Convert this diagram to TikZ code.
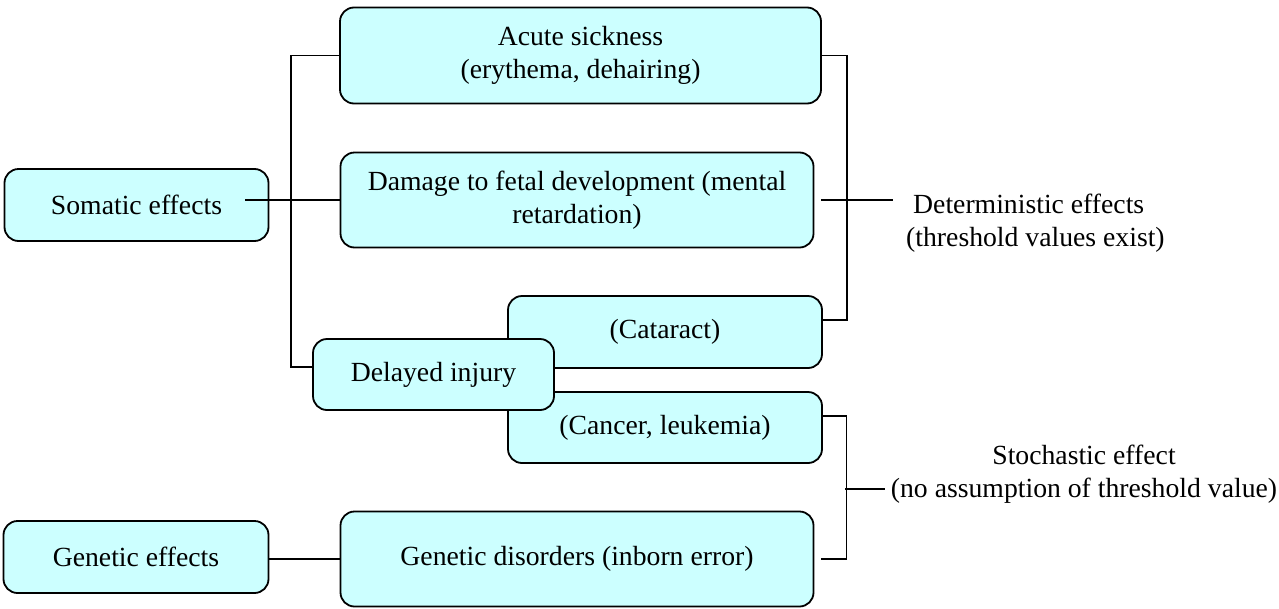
\documentclass[tikz,border=0pt]{standalone}
\usepackage{fontspec}
\setmainfont{Liberation Serif}
\definecolor{boxfill}{HTML}{CCFFFF}
\tikzset{
  box/.style={draw=black, line width=1.8pt, fill=boxfill, rounded corners=14pt,
    inner sep=0pt, align=center, anchor=center},
  conn/.style={draw=black, line width=1.8pt},
  lbl/.style={inner sep=0pt, align=left, anchor=west},
  clbl/.style={inner sep=0pt, align=center, anchor=center}
}
\begin{document}
\begin{tikzpicture}[x=1pt, y=-1pt, font=\fontsize{27.7}{33.5}\selectfont]
\useasboundingbox (0,0) rectangle (1279,608);
% boxes
\node[box, minimum width=264pt, minimum height=72pt] (somatic) at (136.5,205) {Somatic effects};
\node[box, minimum width=481pt, minimum height=96pt] (acute) at (580.5,55.5) {Acute sickness\\(erythema, dehairing)};
\node[box, minimum width=473pt, minimum height=95pt] (damage) at (577,200) {Damage to fetal development (mental\\retardation)};
\node[box, minimum width=314pt, minimum height=72pt] (cataract) at (665,332) {\raisebox{5pt}{(Cataract)}};
\node[box, minimum width=314pt, minimum height=71pt] (cancer) at (665,427.5) {\raisebox{4pt}{(Cancer, leukemia)}};
\node[box, minimum width=241pt, minimum height=71pt] (delayed) at (433.5,374.5) {Delayed injury};
\node[box, minimum width=265pt, minimum height=72pt] (genetic) at (136,557) {Genetic effects};
\node[box, minimum width=473pt, minimum height=95pt] (gendis) at (577,559) {\raisebox{2pt}{Genetic disorders (inborn error)}};
% labels
\node[lbl] (determ) at (906,223) {\hspace*{7pt}Deterministic effects\\(threshold values exist)};
\node[clbl] (stoch) at (1084,474) {Stochastic effect\\(no assumption of threshold value)};
% connectors
\coordinate (s0) at (245,200);
\draw[conn] (s0) -- (s0 -| damage.west);
\draw[conn] (acute.west) -| ([xshift=-21pt,yshift=7.5pt]delayed.west) -- ([yshift=7.5pt]delayed.west);
\draw[conn] (acute.east) -| ([xshift=24pt,yshift=12pt]cataract.east) -- ([yshift=12pt]cataract.east);
\draw[conn] ([xshift=7pt]damage.east) -- ([xshift=-13pt]determ.west |- damage.east);
\draw[conn] ([yshift=11.5pt]cancer.east) -| ([xshift=32pt]gendis.east) -- ([xshift=7pt]gendis.east);
\coordinate (sm) at (845,489);
\draw[conn] (sm) -- ([xshift=-6pt]stoch.west |- sm);
\draw[conn] (genetic.east |- gendis.west) -- (gendis.west);
\end{tikzpicture}
\end{document}
